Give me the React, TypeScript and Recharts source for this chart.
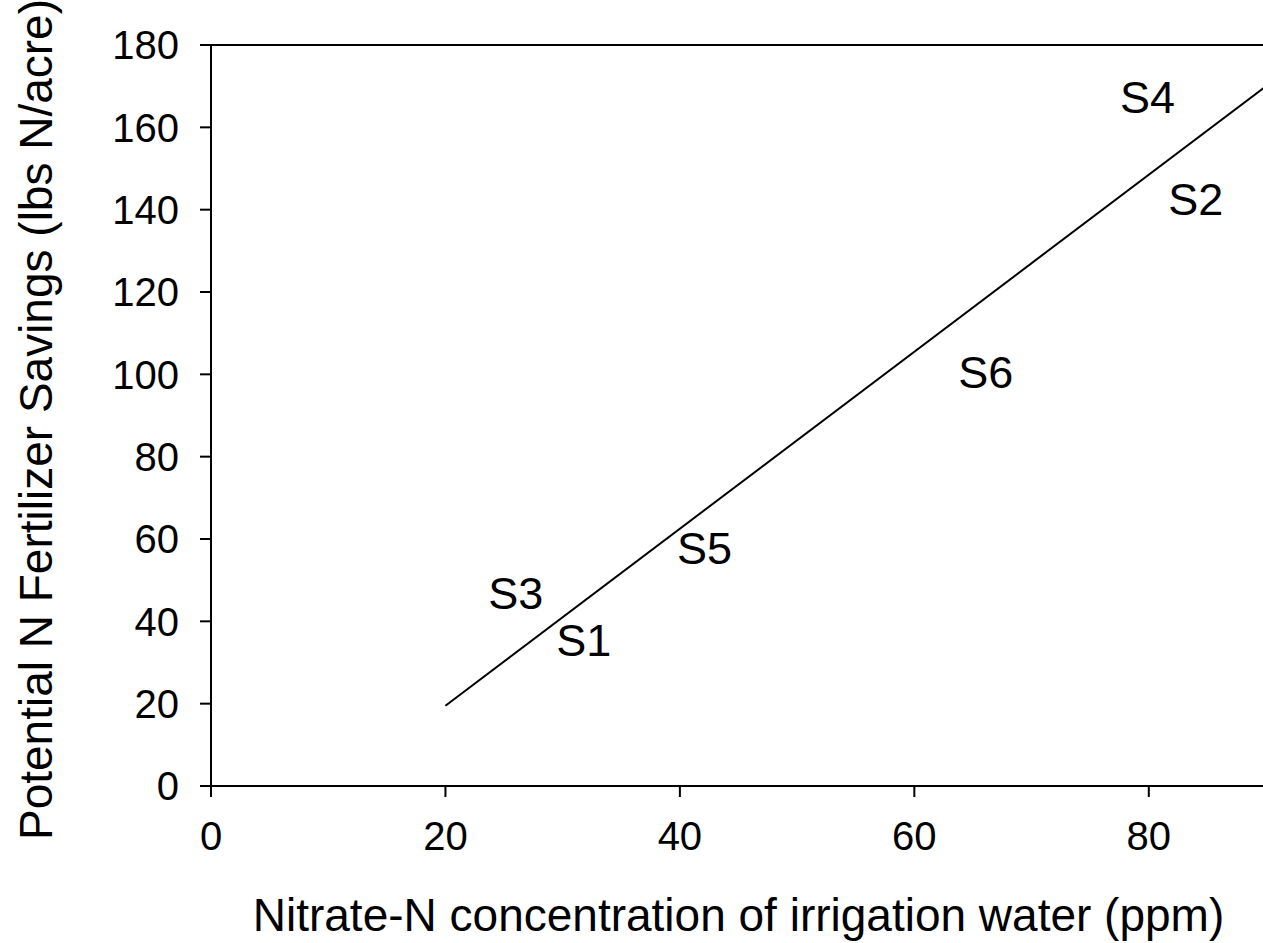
import React from "react";
import {
  ScatterChart,
  Scatter,
  XAxis,
  YAxis,
  ReferenceLine,
  Label,
} from "recharts";

const xTicks = [0, 20, 40, 60, 80];
const yTicks = [0, 20, 40, 60, 80, 100, 120, 140, 160, 180];

// regression line end points
const fitX = [20, 90];
const fitY = [19.5, 170];

// site labels (ppm, lbs N/acre)
const siteNames = ["S1", "S2", "S3", "S4", "S5", "S6"];
const siteX = [31.8, 84.0, 26.0, 79.9, 42.1, 66.1];
const siteY = [35.5, 142.6, 46.9, 167.4, 57.8, 100.6];

const FONT = "'Liberation Sans', Arial, sans-serif";

const App = () => {
  const fitData = fitX.map((x, i) => ({ x, y: fitY[i] }));
  const siteData = siteNames.map((name, i) => ({ name, x: siteX[i], y: siteY[i] }));

  const siteShape = (props: any) => (
    <text
      x={props.cx}
      y={props.cy}
      dy={16}
      textAnchor="middle"
      fontSize={45}
      fontFamily={FONT}
      fill="#000"
    >
      {props.payload.name}
    </text>
  );

  return (
    <div style={{ position: "absolute", left: 0, top: 0, width: 1263, height: 943, overflow: "hidden", background: "#fff" }}>
      <ScatterChart
        width={1266}
        height={943}
        margin={{ top: 45, right: 0, left: 0, bottom: 0 }}
      >
        <XAxis
          type="number"
          dataKey="x"
          domain={[0, 90]}
          ticks={xTicks}
          height={157}
          tickSize={11}
          tickMargin={25}
          axisLine={{ stroke: "#000", strokeWidth: 2 }}
          tickLine={{ stroke: "#000", strokeWidth: 2 }}
          tick={{ fill: "#000", fontSize: 40, fontFamily: FONT }}
          allowDataOverflow
        >
          <Label
            content={(p: any) => (
              <text
                x={p.viewBox.x + p.viewBox.width / 2}
                y={p.viewBox.y + 145}
                textAnchor="middle"
                fontSize={46}
                fontFamily={FONT}
                fill="#000"
              >
                Nitrate-N concentration of irrigation water (ppm)
              </text>
            )}
          />
        </XAxis>
        <YAxis
          type="number"
          dataKey="y"
          domain={[0, 180]}
          ticks={yTicks}
          width={211}
          tickSize={11}
          tickMargin={21}
          axisLine={{ stroke: "#000", strokeWidth: 2 }}
          tickLine={{ stroke: "#000", strokeWidth: 2 }}
          tick={{ fill: "#000", fontSize: 40, fontFamily: FONT }}
          allowDataOverflow
        >
          <Label
            content={(p: any) => {
              const cy = p.viewBox.y + p.viewBox.height / 2 + 4;
              return (
                <text
                  x={52}
                  y={cy}
                  transform={`rotate(-90, 52, ${cy})`}
                  textAnchor="middle"
                  fontSize={46}
                  fontFamily={FONT}
                  fill="#000"
                >
                  Potential N Fertilizer Savings (lbs N/acre)
                </text>
              );
            }}
          />
        </YAxis>
        <ReferenceLine y={180} stroke="#000" strokeWidth={2} />
        <Scatter
          data={fitData}
          line={{ stroke: "#000", strokeWidth: 2 }}
          shape={() => <g />}
          isAnimationActive={false}
        />
        <Scatter data={siteData} shape={siteShape} isAnimationActive={false} />
      </ScatterChart>
    </div>
  );
};

export default App;
